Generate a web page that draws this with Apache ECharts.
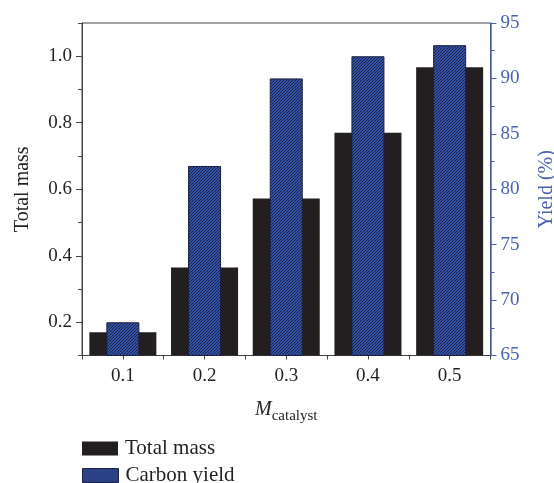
<!DOCTYPE html>
<html>
<head>
<meta charset="utf-8">
<script src="https://cdn.jsdelivr.net/npm/echarts@6/dist/echarts.min.js"></script>
<style>
html,body{margin:0;padding:0;background:#fff;}
#c{width:554px;height:483px;}
</style>
</head>
<body>
<div id="c"></div>
<script>
var categories = ['0.1', '0.2', '0.3', '0.4', '0.5'];
var totalMass = [0.17, 0.365, 0.572, 0.77, 0.967];
var carbonYield = [68.0, 82.1, 90.0, 92.0, 93.0];
var leftMajorTicks = [0.2, 0.4, 0.6, 0.8, 1.0];
var leftMinorTicks = [0.1, 0.3, 0.5, 0.7, 0.9, 1.1];

var FONT = 'Liberation Serif';
var BLUE_AXIS = '#4a62ae';
var TXT = '#231f20';

// hatch pattern
var cv = document.createElement('canvas');
cv.width = 3; cv.height = 3;
var cx = cv.getContext('2d');
for (var x = 0; x < 3; x++) {
  for (var y = 0; y < 3; y++) {
    cx.fillStyle = ((x + y) % 3 === 0) ? '#1b2447' : '#3351a6';
    cx.fillRect(x, y, 1, 1);
  }
}
var hatch = { image: cv, repeat: 'repeat' };

function legendFor(name, top, style) {
  return {
    orient: 'vertical', left: 82, top: top, padding: 0,
    itemWidth: 36, itemHeight: 14, itemGap: 0,
    icon: 'rect',
    textStyle: { fontFamily: FONT, fontSize: 21, color: TXT, padding: [0, 0, 0, 2] },
    data: [{ name: name, icon: 'rect', itemStyle: style }]
  };
}

var chart = echarts.init(document.getElementById('c'), null, { renderer: 'canvas' });
chart.setOption({
  animation: false,
  backgroundColor: '#fff',
  textStyle: { fontFamily: FONT },
  grid: { left: 82, right: 63.5, top: 23, bottom: 127.5, show: true, borderColor: '#444', borderWidth: 1,
          containLabel: false, outerBoundsMode: 'none' },
  legend: [
    legendFor('Total mass', 438, { color: '#231f20', borderWidth: 0 }),
    legendFor('Carbon yield', 465, { color: hatch, borderColor: '#1b2040', borderWidth: 1 })
  ],
  xAxis: [
    {
      type: 'category', data: categories, position: 'bottom', boundaryGap: true,
      axisLine: { show: true, lineStyle: { color: '#444', width: 1 } },
      axisTick: { show: true, alignWithLabel: false, length: 4, lineStyle: { color: '#444' } },
      axisLabel: { fontFamily: FONT, fontSize: 19, color: TXT, margin: 11 },
      name: '{i|M}{s|catalyst}', nameLocation: 'middle', nameGap: 44,
      nameTextStyle: {
        rich: {
          i: { fontFamily: FONT, fontStyle: 'italic', fontSize: 20, color: TXT, verticalAlign: 'bottom' },
          s: { fontFamily: FONT, fontSize: 15, color: TXT, verticalAlign: 'bottom', padding: [0, 0, -4, 0] }
        }
      },
      splitLine: { show: false }
    },
    {
      type: 'category', data: categories, position: 'bottom', boundaryGap: true,
      axisLine: { show: false },
      axisTick: { show: true, alignWithLabel: true, length: 4, lineStyle: { color: '#444' } },
      axisLabel: { show: false },
      splitLine: { show: false }
    }
  ],
  yAxis: [
    {
      type: 'value', position: 'left', min: 0.1, max: 1.1, interval: 0.1,
      axisLine: { show: true, lineStyle: { color: '#444', width: 1 } },
      axisTick: { show: true, customValues: leftMajorTicks, length: 6, lineStyle: { color: '#444' } },
      axisLabel: { customValues: leftMajorTicks, fontFamily: FONT, fontSize: 19, color: TXT, margin: 10,
        formatter: function (v) { return v.toFixed(1); } },
      splitLine: { show: false },
      name: 'Total mass', nameLocation: 'middle', nameGap: 49, nameRotate: 90,
      nameTextStyle: { fontFamily: FONT, fontSize: 20, color: TXT }
    },
    {
      type: 'value', position: 'right', min: 65, max: 95, interval: 5,
      axisLine: { show: true, lineStyle: { color: BLUE_AXIS, width: 1.5 } },
      axisTick: { show: true, length: 6, lineStyle: { color: BLUE_AXIS } },
      minorTick: { show: true, splitNumber: 2, length: 4, lineStyle: { color: BLUE_AXIS } },
      axisLabel: { fontFamily: FONT, fontSize: 19, color: BLUE_AXIS, margin: 10 },
      splitLine: { show: false },
      minorSplitLine: { show: false },
      name: 'Yield (%)', nameLocation: 'middle', nameGap: 46, nameRotate: 90,
      nameTextStyle: { fontFamily: FONT, fontSize: 20, color: BLUE_AXIS }
    },
    {
      type: 'value', position: 'left', min: 0.1, max: 1.1, interval: 0.1,
      axisLine: { show: false },
      axisTick: { show: true, customValues: leftMinorTicks, length: 4, lineStyle: { color: '#444' } },
      axisLabel: { show: false },
      splitLine: { show: false }
    }
  ],
  series: [
    {
      name: 'Total mass', type: 'bar', xAxisIndex: 0, yAxisIndex: 0,
      data: totalMass, barWidth: 67,
      itemStyle: { color: '#231f20' }
    },
    {
      name: 'Carbon yield', type: 'bar', xAxisIndex: 1, yAxisIndex: 1,
      data: carbonYield, barWidth: 33,
      itemStyle: { color: hatch, borderColor: '#1b2040', borderWidth: 1 }
    }
  ]
});
</script>
</body>
</html>
